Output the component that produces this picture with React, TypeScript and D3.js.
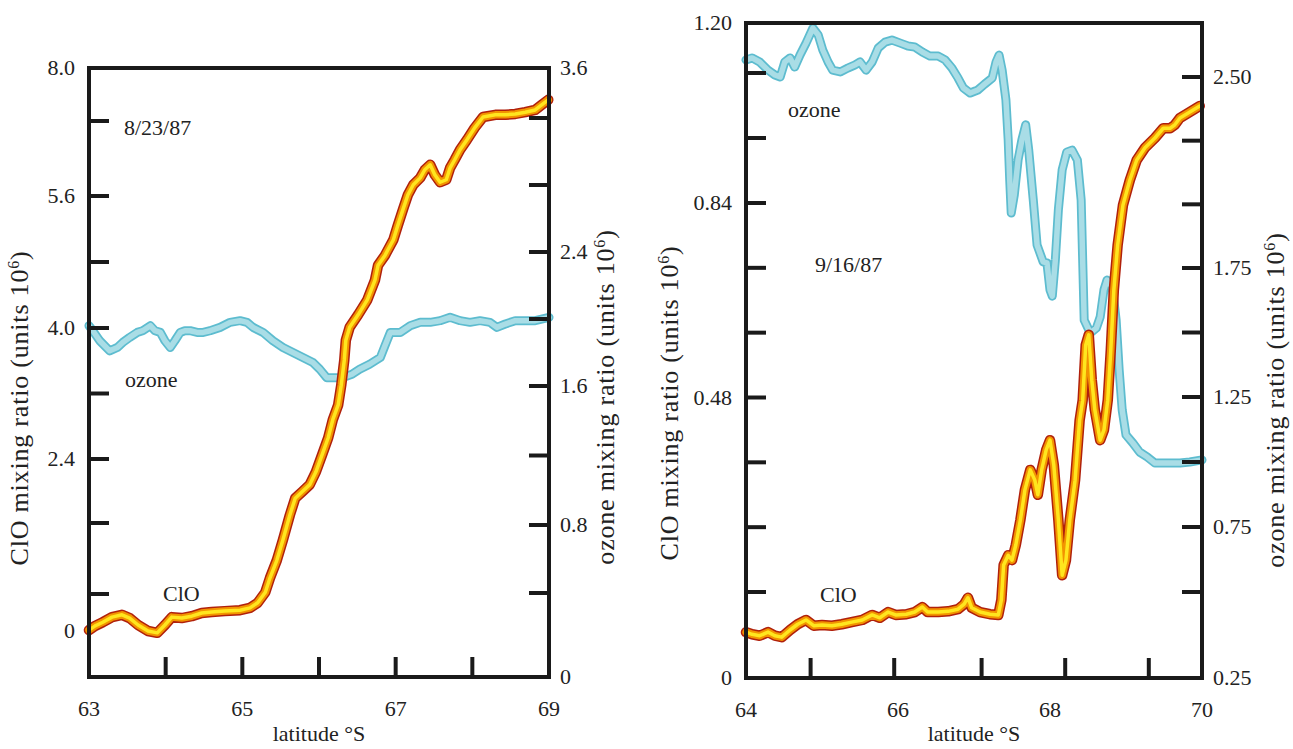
import React from 'react';
import * as d3 from 'd3';

// ---------------- DATA ----------------
// Panel (a) 8/23/87
const leftClOLat = [63.00,63.08,63.18,63.30,63.43,63.53,63.64,63.77,63.89,63.99,64.08,64.21,64.34,64.47,64.60,64.77,64.97,65.10,65.20,65.30,65.36,65.45,65.53,65.62,65.69,65.78,65.88,65.96,66.04,66.12,66.18,66.25,66.29,66.33,66.35,66.40,66.51,66.63,66.73,66.77,66.86,66.97,67.03,67.10,67.16,67.23,67.32,67.38,67.45,67.51,67.58,67.66,67.71,67.77,67.84,67.93,68.03,68.14,68.30,68.43,68.56,68.69,68.82,68.90,68.99];
const leftClO = [0.02,0.11,0.19,0.30,0.35,0.28,0.13,0.00,-0.04,0.13,0.30,0.28,0.32,0.39,0.41,0.43,0.45,0.50,0.61,0.82,0.98,1.18,1.41,1.70,1.91,1.99,2.08,2.24,2.45,2.66,2.88,3.06,3.30,3.61,3.85,4.01,4.16,4.34,4.58,4.76,4.88,5.07,5.25,5.45,5.62,5.78,5.89,6.02,6.10,5.94,5.82,5.86,6.05,6.18,6.34,6.50,6.69,6.89,6.94,6.94,6.96,7.00,7.05,7.16,7.28];
const leftO3Lat = [63.00,63.05,63.14,63.27,63.37,63.44,63.53,63.63,63.70,63.80,63.86,63.93,63.99,64.06,64.12,64.19,64.25,64.32,64.41,64.49,64.58,64.71,64.84,64.97,65.06,65.14,65.27,65.40,65.53,65.66,65.79,65.92,66.01,66.10,66.21,66.31,66.43,66.53,66.66,66.80,66.86,66.93,67.06,67.19,67.32,67.45,67.58,67.71,67.84,67.97,68.10,68.23,68.32,68.43,68.56,68.66,68.82,69.00];
const leftO3 = [1.96,1.93,1.87,1.81,1.83,1.86,1.89,1.92,1.93,1.96,1.93,1.92,1.87,1.83,1.87,1.92,1.93,1.93,1.92,1.92,1.93,1.95,1.98,1.99,1.98,1.95,1.92,1.87,1.83,1.80,1.77,1.74,1.70,1.65,1.65,1.65,1.67,1.70,1.73,1.77,1.84,1.92,1.92,1.96,1.98,1.98,1.99,2.01,1.99,1.98,1.99,1.98,1.95,1.97,1.99,1.99,1.99,2.01];

// Panel (b) 9/16/87
const rightClOLat = [64.00,64.08,64.18,64.29,64.38,64.47,64.58,64.68,64.79,64.89,65.00,65.13,65.26,65.39,65.53,65.66,65.76,65.87,65.97,66.11,66.22,66.32,66.39,66.53,66.66,66.79,66.87,66.92,66.97,67.08,67.21,67.32,67.36,67.39,67.45,67.50,67.55,67.61,67.67,67.74,67.80,67.84,67.89,67.95,68.00,68.05,68.11,68.16,68.21,68.26,68.33,68.39,68.43,68.47,68.51,68.55,68.59,68.66,68.71,68.76,68.80,68.84,68.89,68.96,69.05,69.14,69.25,69.38,69.49,69.58,69.64,69.71,69.84,69.97];
const rightClO = [0.064,0.061,0.059,0.064,0.059,0.057,0.067,0.075,0.081,0.073,0.074,0.073,0.075,0.078,0.081,0.088,0.084,0.092,0.088,0.089,0.092,0.099,0.092,0.092,0.093,0.096,0.103,0.112,0.098,0.092,0.089,0.088,0.109,0.170,0.188,0.179,0.207,0.253,0.309,0.346,0.327,0.300,0.346,0.383,0.401,0.355,0.253,0.151,0.179,0.253,0.327,0.438,0.475,0.577,0.596,0.512,0.457,0.401,0.420,0.475,0.568,0.679,0.762,0.836,0.882,0.919,0.942,0.960,0.978,0.978,0.984,0.997,1.008,1.019];
const rightO3Lat = [64.00,64.08,64.18,64.29,64.38,64.45,64.51,64.58,64.64,64.71,64.79,64.88,64.95,65.01,65.08,65.14,65.24,65.34,65.43,65.50,65.58,65.66,65.74,65.83,65.92,66.03,66.13,66.22,66.32,66.42,66.53,66.62,66.71,66.79,66.86,66.95,67.05,67.14,67.24,67.29,67.33,67.37,67.42,67.45,67.47,67.49,67.53,67.58,67.63,67.68,67.72,67.78,67.83,67.91,67.96,68.00,68.03,68.07,68.11,68.16,68.22,68.29,68.36,68.41,68.43,68.45,68.53,68.61,68.66,68.71,68.75,68.82,68.87,68.91,68.95,69.00,69.09,69.18,69.28,69.38,69.51,69.71,69.84,70.00];
const rightO3 = [2.567,2.575,2.559,2.527,2.508,2.500,2.559,2.575,2.539,2.586,2.633,2.692,2.665,2.606,2.559,2.527,2.520,2.535,2.547,2.559,2.527,2.559,2.614,2.637,2.645,2.633,2.622,2.618,2.598,2.582,2.582,2.567,2.535,2.496,2.457,2.437,2.449,2.472,2.496,2.559,2.586,2.527,2.410,2.253,2.096,1.966,2.037,2.174,2.253,2.312,2.213,2.017,1.840,1.774,1.770,1.665,1.641,1.781,1.978,2.135,2.205,2.213,2.174,2.017,1.781,1.548,1.498,1.517,1.560,1.665,1.703,1.676,1.548,1.355,1.200,1.104,1.073,1.038,1.019,0.996,0.996,0.996,1.000,1.008];

// Axis ticks / labels
const leftXTicks = [64, 65, 66, 67, 68];
const leftXLabels = [63, 65, 67, 69];
const leftClOTicks = [0.8, 1.6, 2.4, 3.2, 4.0, 4.8, 5.6, 6.8];
const leftClOLabels = [0, 2.4, 4.0, 5.6, 8.0];
const leftO3Ticks = [0.4, 0.8, 1.2, 1.6, 2.0, 2.4, 2.8, 3.2];
const leftO3Labels = [0, 0.8, 1.6, 2.4, 3.6];

const rightXTicks = [64.85, 65.95, 67.1, 68.2, 69.3];
const rightXLabels = [64, 66, 68, 70];
const rightClOTicks = [0.12, 0.24, 0.36, 0.48, 0.6, 0.72, 0.84, 0.96, 1.08];
const rightClOLabels = [0, 0.48, 0.84, 1.2];
const rightO3Ticks = [0.5, 0.75, 1.0, 1.25, 1.5, 1.75, 2.0, 2.25, 2.5];
const rightO3Labels = [0.25, 0.75, 1.25, 1.75, 2.5];

const FONT = '"Liberation Serif", "Times New Roman", serif';

type PanelProps = {
  frame: { l: number; r: number; t: number; b: number };
  x: d3.ScaleLinear<number, number>;
  yL: d3.ScaleLinear<number, number>;
  yR: d3.ScaleLinear<number, number>;
  xTicks: number[]; xLabels: number[];
  lTicks: number[]; lLabels: number[]; lFmt: (v: number) => string;
  rTicks: number[]; rLabels: number[]; rFmt: (v: number) => string;
  clo: [number, number][]; o3: [number, number][];
  date: string; datePos: [number, number];
  ozonePos: [number, number]; cloPos: [number, number];
  lTitleX: number; rTitleX: number; lTitleY: number; rTitleY: number;
};

const TICK = 20;

function Title({ x, y, main }: { x: number; y: number; main: string }) {
  return (
    <text transform={`translate(${x},${y}) rotate(-90)`} textAnchor="middle" fontFamily={FONT} fontSize={26} letterSpacing={0.8} fill="#222">
      {main}
      <tspan dy={-9} fontSize={16}>6</tspan>
      <tspan dy={9}>)</tspan>
    </text>
  );
}

function Panel(p: PanelProps) {
  const { frame, x, yL, yR } = p;
  const cloLine = d3.line<[number, number]>().x(d => x(d[0])).y(d => yL(d[1]));
  const o3Line = d3.line<[number, number]>().x(d => x(d[0])).y(d => yR(d[1]));
  const dClo = cloLine(p.clo) || '';
  const dO3 = o3Line(p.o3) || '';
  const cx = (frame.l + frame.r) / 2;
  return (
    <g>
      {/* ozone */}
      <path d={dO3} fill="none" stroke="#5DBCCF" strokeWidth={9} strokeLinejoin="round" strokeLinecap="round" />
      <path d={dO3} fill="none" stroke="#A9DDE6" strokeWidth={5.5} strokeLinejoin="round" strokeLinecap="round" />
      {/* ClO */}
      <path d={dClo} fill="none" stroke="#B0200C" strokeWidth={10.5} strokeLinejoin="round" strokeLinecap="round" />
      <path d={dClo} fill="none" stroke="#F29400" strokeWidth={7.5} strokeLinejoin="round" strokeLinecap="round" />
      <path d={dClo} fill="none" stroke="#FFE61E" strokeWidth={3.5} strokeLinejoin="round" strokeLinecap="round" />

      {/* frame */}
      <rect x={frame.l} y={frame.t} width={frame.r - frame.l} height={frame.b - frame.t} fill="none" stroke="#1a1a1a" strokeWidth={4} />
      {p.xTicks.map(t => (
        <line key={'xt' + t} x1={x(t)} x2={x(t)} y1={frame.b} y2={frame.b - TICK} stroke="#1a1a1a" strokeWidth={4} />
      ))}
      {p.lTicks.map(t => (
        <line key={'lt' + t} x1={frame.l} x2={frame.l + TICK} y1={yL(t)} y2={yL(t)} stroke="#1a1a1a" strokeWidth={4} />
      ))}
      {p.rTicks.map(t => (
        <line key={'rt' + t} x1={frame.r} x2={frame.r - TICK} y1={yR(t)} y2={yR(t)} stroke="#1a1a1a" strokeWidth={4} />
      ))}

      {/* labels */}
      {p.xLabels.map(t => (
        <text key={'xl' + t} x={x(t)} y={frame.b + 39} textAnchor="middle" fontFamily={FONT} fontSize={22} fill="#222">{t}</text>
      ))}
      {p.lLabels.map(t => (
        <text key={'ll' + t} x={frame.l - 14} y={yL(t) + 7} textAnchor="end" fontFamily={FONT} fontSize={22} fill="#222">{p.lFmt(t)}</text>
      ))}
      {p.rLabels.map(t => (
        <text key={'rl' + t} x={frame.r + 11} y={yR(t) + 7} textAnchor="start" fontFamily={FONT} fontSize={22} fill="#222">{p.rFmt(t)}</text>
      ))}
      <text x={cx} y={741} textAnchor="middle" fontFamily={FONT} fontSize={22} fill="#222">latitude °S</text>
      <Title x={p.lTitleX} y={p.lTitleY} main="ClO mixing ratio (units 10" />
      <Title x={p.rTitleX} y={p.rTitleY} main="ozone mixing ratio (units 10" />

      <text x={p.datePos[0]} y={p.datePos[1]} fontFamily={FONT} fontSize={22} fill="#222">{p.date}</text>
      <text x={p.ozonePos[0]} y={p.ozonePos[1]} fontFamily={FONT} fontSize={22} fill="#222">ozone</text>
      <text x={p.cloPos[0]} y={p.cloPos[1]} fontFamily={FONT} fontSize={22} fill="#222">ClO</text>
    </g>
  );
}

export default function App() {
  const fL = { l: 89, r: 549, t: 68, b: 677 };
  const fR = { l: 746, r: 1202, t: 23, b: 678 };

  const xL = d3.scaleLinear().domain([63, 69]).range([fL.l, fL.r]);
  const yLClO = d3.scaleLinear().domain([0, 0.8, 1.6, 2.4, 4.0, 5.6, 6.8, 8.0]).range([631, 594, 523, 459, 328, 196, 121, fL.t]);
  const yLO3 = d3.scaleLinear().domain([0, 0.4, 0.8, 1.6, 2.4, 3.2, 3.6]).range([fL.b, 593, 525, 386, 252, 118, fL.t]);

  const xR = d3.scaleLinear().domain([64, 70]).range([fR.l, fR.r]);
  const yRClO = d3.scaleLinear().domain([0, 0.12, 0.84, 1.08, 1.2]).range([fR.b, 592, 203, 73, fR.t]);
  const yRO3 = d3.scaleLinear().domain([0.25, 0.5, 0.75, 1.25, 1.75, 2.5]).range([fR.b, 592, 527, 397, 268, 77]);

  const f1 = (v: number) => (v === 0 ? '0' : d3.format('.1f')(v));
  const f2 = (v: number) => (v === 0 ? '0' : d3.format('.2f')(v));

  const zip = (a: number[], b: number[]) => d3.range(Math.min(a.length, b.length)).map(i => [a[i], b[i]] as [number, number]);

  return (
    <svg width={1293} height={749} style={{ position: 'absolute', left: 0, top: 0, background: '#fff' }}>
      <rect x={0} y={0} width={1293} height={749} fill="#fff" />
      <Panel
        frame={fL} x={xL} yL={yLClO} yR={yLO3}
        xTicks={leftXTicks} xLabels={leftXLabels}
        lTicks={leftClOTicks} lLabels={leftClOLabels} lFmt={f1}
        rTicks={leftO3Ticks} rLabels={leftO3Labels} rFmt={f1}
        clo={zip(leftClOLat, leftClO)} o3={zip(leftO3Lat, leftO3)}
        date="8/23/87" datePos={[124, 135]} ozonePos={[125, 387]} cloPos={[163, 601]}
        lTitleX={28} rTitleX={614} lTitleY={408} rTitleY={397}
      />
      <Panel
        frame={fR} x={xR} yL={yRClO} yR={yRO3}
        xTicks={rightXTicks} xLabels={rightXLabels}
        lTicks={rightClOTicks} lLabels={rightClOLabels} lFmt={f2}
        rTicks={rightO3Ticks} rLabels={rightO3Labels} rFmt={f2}
        clo={zip(rightClOLat, rightClO)} o3={zip(rightO3Lat, rightO3)}
        date="9/16/87" datePos={[815, 272]} ozonePos={[788, 117]} cloPos={[820, 602]}
        lTitleX={678} rTitleX={1284} lTitleY={403} rTitleY={400}
      />
    </svg>
  );
}
